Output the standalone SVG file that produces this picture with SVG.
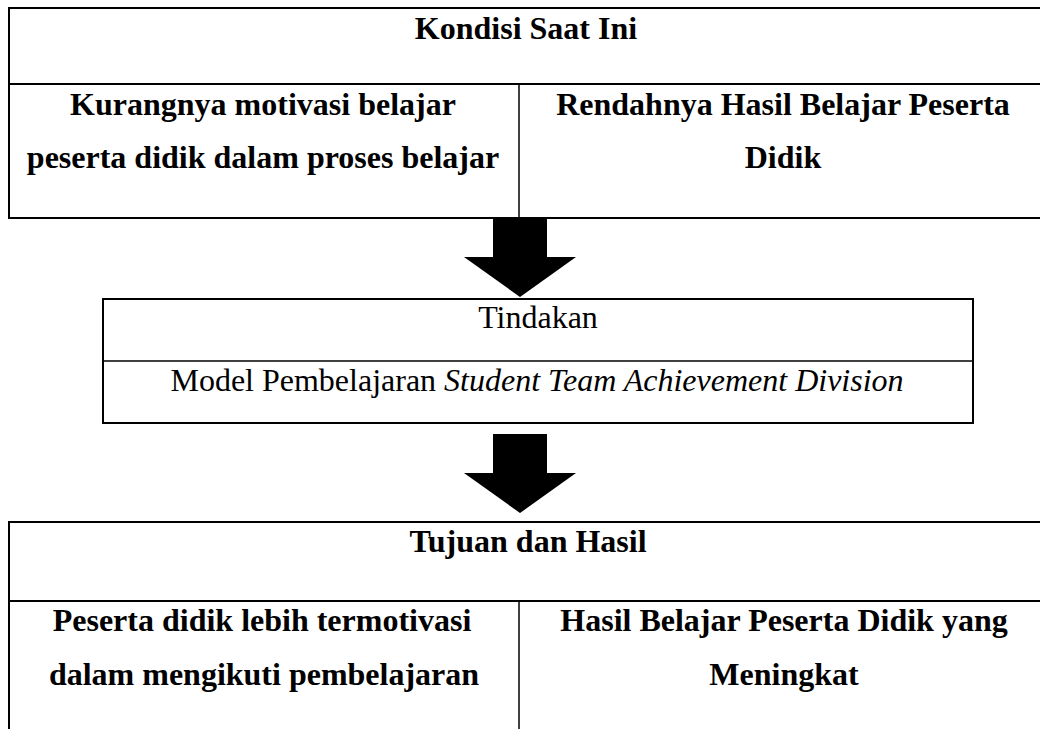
<svg xmlns="http://www.w3.org/2000/svg" width="1040" height="729" viewBox="0 0 1040 729">
<style>
.t{font-family:"Liberation Serif","Times New Roman",serif;font-size:32px;fill:#000;text-anchor:middle}
.b{font-weight:bold}
.i{font-style:italic}
.o{fill:none;stroke:#000;stroke-width:2}
.l{fill:none;stroke:#000;stroke-width:1.5}
.a{fill:#000;stroke:none}
</style>
<rect width="1040" height="729" fill="#fff"/>
<g id="kondisi">
<rect class="o" x="9" y="8" width="1040" height="210"/>
<line class="o" x1="9" y1="84" x2="1049" y2="84"/>
<line class="l" x1="519" y1="84" x2="519" y2="218"/>
<text class="t b" x="526" y="39">Kondisi Saat Ini</text>
<text class="t b" x="263" y="115">Kurangnya motivasi belajar</text>
<text class="t b" x="263" y="168">peserta didik dalam proses belajar</text>
<text class="t b" x="783" y="115">Rendahnya Hasil Belajar Peserta</text>
<text class="t b" x="783" y="168">Didik</text>
</g>
<g id="tindakan">
<rect class="o" x="103" y="299" width="870" height="124"/>
<line class="l" x1="103" y1="361" x2="973" y2="361"/>
<text class="t" x="538" y="328">Tindakan</text>
<text class="t" x="537" y="391">Model Pembelajaran <tspan class="i">Student Team Achievement Division</tspan></text>
</g>
<g id="tujuan">
<path class="o" d="M9,740 V522 H1049"/>
<line class="o" x1="9" y1="601" x2="1049" y2="601"/>
<line class="l" x1="519" y1="601" x2="519" y2="740"/>
<text class="t b" x="528" y="552">Tujuan dan Hasil</text>
<text class="t b" x="262" y="631">Peserta didik lebih termotivasi</text>
<text class="t b" x="264" y="685">dalam mengikuti pembelajaran</text>
<text class="t b" x="784" y="631">Hasil Belajar Peserta Didik yang</text>
<text class="t b" x="784" y="685">Meningkat</text>
</g>
<g id="connectors">
<polygon class="a" points="493,219 547,219 547,257 576,257 520,297 464,257 493,257"/>
<polygon class="a" points="493,434 547,434 547,473 576,473 520,513 464,473 493,473"/>
</g>
</svg>
